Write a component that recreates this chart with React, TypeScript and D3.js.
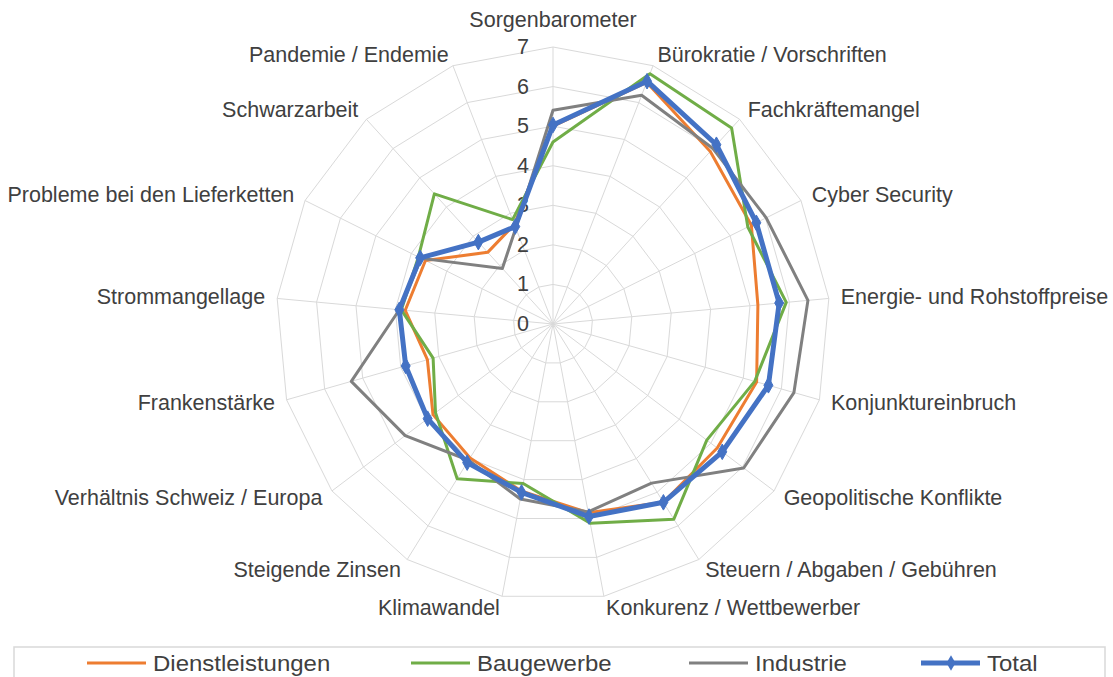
import React from "react";
import * as d3 from "d3";

const categories = [
  "Sorgenbarometer",
  "Bürokratie / Vorschriften",
  "Fachkräftemangel",
  "Cyber Security",
  "Energie- und Rohstoffpreise",
  "Konjunktureinbruch",
  "Geopolitische Konflikte",
  "Steuern / Abgaben / Gebühren",
  "Konkurenz / Wettbewerber",
  "Klimawandel",
  "Steigende Zinsen",
  "Verhältnis Schweiz / Europa",
  "Frankenstärke",
  "Strommangellage",
  "Probleme bei den Lieferketten",
  "Schwarzarbeit",
  "Pandemie / Endemie",
];

const dienstleistungen = [5.0, 6.55, 5.9, 5.6, 5.2, 5.35, 5.2, 5.3, 4.85, 4.3, 3.98, 3.8, 3.3, 3.75, 3.6, 2.45, 2.7];
const baugewerbe = [4.6, 6.78, 6.7, 5.5, 5.92, 5.3, 4.87, 5.8, 5.12, 4.1, 4.6, 3.72, 3.15, 3.85, 3.8, 4.45, 2.83];
const industrie = [5.4, 6.2, 6.0, 6.02, 6.47, 6.33, 6.04, 4.73, 4.83, 4.5, 4.05, 4.68, 5.3, 3.9, 3.72, 1.9, 2.6];
const total = [5.03, 6.58, 6.13, 5.74, 5.74, 5.66, 5.36, 5.3, 4.95, 4.33, 4.12, 3.97, 3.87, 3.9, 3.75, 2.8, 2.64];

const tickValues = [0, 1, 2, 3, 4, 5, 6, 7];

const seriesNames = ["Dienstleistungen", "Baugewerbe", "Industrie", "Total"];
const seriesColors = ["#ED7D31", "#70AD47", "#808080", "#4472C4"];

export default function App() {
  const W = 1113;
  const H = 677;
  const cx = 553;
  const cy = 324;
  const R = 277;
  const font = "'Liberation Sans', Arial, sans-serif";
  const fs = 21.5;

  const n = categories.length;
  const r = d3.scaleLinear().domain([0, 7]).range([0, R]);
  const ang = (i: number) => (i * 2 * Math.PI) / n;

  const radial = d3
    .lineRadial<number>()
    .angle((_d, i) => ang(i))
    .radius((d) => r(d))
    .curve(d3.curveLinearClosed);

  const series = [dienstleistungen, baugewerbe, industrie, total];
  const widths = [3, 3, 3, 5];

  const diamond = d3.symbol().type(d3.symbolDiamond).size(70)() as string;

  const legendX = [87, 411, 689, 921];
  const legendY = 663;

  return (
    <svg
      width={W}
      height={H}
      style={{ position: "absolute", left: 0, top: 0, background: "#fff" }}
      fontFamily={font}
    >
      <rect x={0} y={0} width={W} height={H} fill="#fff" />
      <g transform={`translate(${cx},${cy})`}>
        {tickValues.slice(1).map((t) => (
          <path
            key={"ring" + t}
            d={radial(categories.map(() => t)) as string}
            fill="none"
            stroke="#d9d9d9"
            strokeWidth={1}
          />
        ))}
        {categories.map((c, i) => {
          const a = ang(i);
          return (
            <line
              key={"sp" + i}
              x1={0}
              y1={0}
              x2={Math.sin(a) * r(7)}
              y2={-Math.cos(a) * r(7)}
              stroke="#d9d9d9"
              strokeWidth={1}
            />
          );
        })}
        {tickValues.map((t) => (
          <text
            key={"tk" + t}
            x={-24}
            y={-r(t)}
            textAnchor="end"
            dominantBaseline="central"
            fontSize={fs}
            fill="#404040"
          >
            {t}
          </text>
        ))}
        {categories.map((c, i) => {
          const a = ang(i);
          const s = Math.sin(a);
          const co = Math.cos(a);
          const lr = R + 12;
          const anchor = Math.abs(s) < 0.01 ? "middle" : s > 0 ? "start" : "end";
          const dy = Math.abs(s) < 0.01 ? -15 : 0;
          return (
            <text
              key={"lb" + i}
              x={s * lr}
              y={-co * lr + dy}
              textAnchor={anchor}
              dominantBaseline="central"
              fontSize={fs}
              fill="#404040"
            >
              {c}
            </text>
          );
        })}
        {series.map((vals, k) => (
          <path
            key={"s" + k}
            d={radial(vals) as string}
            fill="none"
            stroke={seriesColors[k]}
            strokeWidth={widths[k]}
            strokeLinejoin="round"
          />
        ))}
        {total.map((v, i) => {
          const a = ang(i);
          return (
            <path
              key={"m" + i}
              d={diamond}
              transform={`translate(${Math.sin(a) * r(v)},${-Math.cos(a) * r(v)})`}
              fill={seriesColors[3]}
              stroke={seriesColors[3]}
              strokeWidth={1}
            />
          );
        })}
      </g>
      <rect x={14} y={647} width={1091} height={45} fill="none" stroke="#d9d9d9" strokeWidth={1.5} />
      {seriesNames.map((nm, k) => (
        <g key={"lg" + k} transform={`translate(${legendX[k]},${legendY})`}>
          <line x1={0} x2={59} y1={0} y2={0} stroke={seriesColors[k]} strokeWidth={widths[k]} />
          {k === 3 && <path d={diamond} transform="translate(30,0)" fill={seriesColors[3]} />}
          <g transform="translate(66,0) scale(1.09,1)">
            <text x={0} y={0} dominantBaseline="central" fontSize={22} fill="#404040">
              {nm}
            </text>
          </g>
        </g>
      ))}
    </svg>
  );
}
